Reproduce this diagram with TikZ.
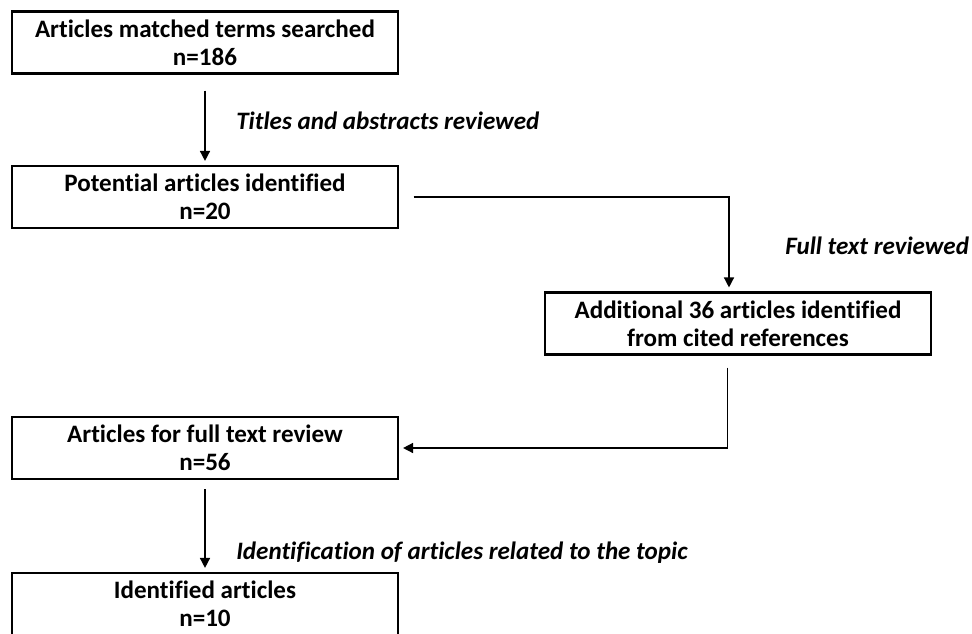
\documentclass[tikz,border=0pt]{standalone}
\usepackage{fontspec}
\setmainfont{Carlito}[Ligatures=NoCommon]
\usetikzlibrary{arrows.meta}
\begin{document}
\begin{tikzpicture}[
        x=0.75pt, y=-0.75pt,
        stage/.style={rectangle, draw=black, line width=1.6pt, minimum width=289.5pt, minimum height=46.5pt, inner sep=0pt, align=center, font=\fontsize{18.8}{21}\selectfont\bfseries},
        flow/.style={-{Triangle[width=7.5pt,length=7.5pt]}, line width=1.1pt, shorten >=3pt},
        note/.style={anchor=west, inner sep=0pt, font=\fontsize{18.8}{21}\selectfont\bfseries\itshape}
    ]
        % Page frame (last box runs off the bottom)
        \clip (0,0) rectangle (972,633);

        % Boxes
        \node[stage] (art) at (205,42.5) {Articles matched terms searched\\n=186};
        \node[stage] (pot) at (205,197) {Potential articles identified\\n=20};
        \node[stage] (add) at (738,323.5) {Additional 36 articles identified\\from cited references};
        \node[stage] (rev) at (205,448) {Articles for full text review\\n=56};
        \node[stage] (ide) at (205,604) {Identified articles\\n=10};

        % Connectors
        \draw[flow, shorten <=12pt] (art.south) -- (pot.north);
        \draw[flow, shorten <=11pt] (pot.east) -| ([xshift=-6.75pt]add.north);
        \draw[flow, shorten <=9pt] ([xshift=-8pt]add.south) |- (rev.east);
        \draw[flow, shorten <=7pt] (rev.south) -- (ide.north);

        % Step labels
        \node[note] (l1) at (236,121) {Titles and abstracts reviewed};
        \node[note] (l2) at (785,246) {Full text reviewed};
        \node[note] (l3) at (236,553) {Identification of articles related to the topic};
    \end{tikzpicture}
\end{document}
